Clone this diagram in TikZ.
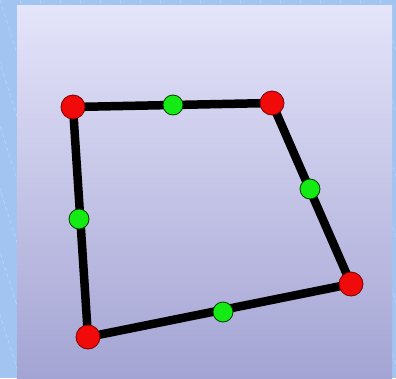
\documentclass[tikz,border=0pt]{standalone}
\usetikzlibrary{backgrounds}
\begin{document}
\begin{tikzpicture}[x=1pt,y=-1pt,
  redpt/.style={circle,fill={rgb,255:red,240;green,10;blue,10},draw={rgb,255:red,120;green,0;blue,0},line width=0.8pt,minimum size=24pt,inner sep=0pt},
  greenpt/.style={circle,fill={rgb,255:red,20;green,235;blue,20},draw={rgb,255:red,0;green,60;blue,0},line width=0.8pt,minimum size=20pt,inner sep=0pt},
  edge/.style={line width=8.5pt,black,line cap=round}]
\definecolor{frameblue}{RGB}{162,196,240}
\definecolor{paneltop}{RGB}{228,228,250}
\definecolor{panelbot}{RGB}{164,164,212}
\useasboundingbox (0,0) rectangle (396,378);
\node[redpt] (a) at (73,107) {};
\node[redpt] (b) at (272,103) {};
\node[redpt] (c) at (351,284) {};
\node[redpt] (d) at (88,337) {};
\node[greenpt] (m1) at (173,105) {};
\node[greenpt] (m2) at (310,189) {};
\node[greenpt] (m3) at (223,312) {};
\node[greenpt] (m4) at (79,219) {};
\begin{scope}[on background layer]
\fill[frameblue] (0,0) rectangle (396,378);
\begin{scope}
\clip (0,0) rectangle (396,378);
\foreach \i in {-400,-380,...,400}{
  \draw[white,opacity=0.35,line width=0.5pt,dash pattern=on 4pt off 3pt] (\i,0) -- (\i+120,378);
}
\end{scope}
\shade[top color=paneltop,bottom color=panelbot] (17,5) rectangle (392,378);
\draw[edge] (a.center) -- (b.center) -- (c.center) -- (d.center) -- cycle;
\end{scope}
\end{tikzpicture}
\end{document}
